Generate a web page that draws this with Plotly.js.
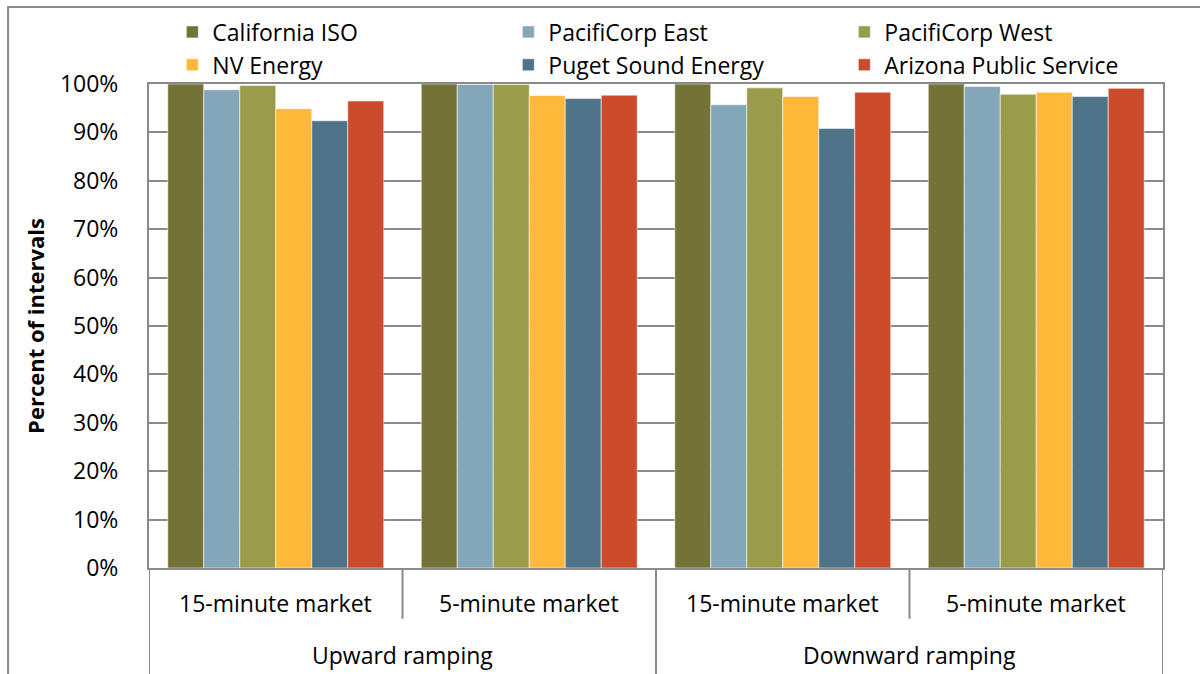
<!DOCTYPE html>
<html>
<head>
<meta charset="utf-8">
<script src="https://cdn.plot.ly/plotly-3.0.1.min.js"></script>
<style>html,body{margin:0;padding:0;background:#fff;}#chart{width:1200px;height:674px;}</style>
</head>
<body>
<div id="chart"></div>
<script>
// ---- data ----
const categories = ["15-minute market", "5-minute market", "15-minute market", "5-minute market"];
const groups = ["Upward ramping", "Downward ramping"];
const seriesNames = ["California ISO", "PacifiCorp East", "PacifiCorp West", "NV Energy", "Puget Sound Energy", "Arizona Public Service"];
const caiso = [100, 100, 100, 100];
const pacificorpEast = [98.8, 99.9, 95.7, 99.5];
const pacificorpWest = [99.7, 99.9, 99.2, 97.9];
const nvEnergy = [94.9, 97.6, 97.4, 98.3];
const pugetSound = [92.4, 97.0, 90.8, 97.4];
const arizonaPS = [96.5, 97.7, 98.3, 99.1];
const yTicks = [0, 10, 20, 30, 40, 50, 60, 70, 80, 90, 100];

const colors = ["#737338", "#84A6B9", "#9B9B4C", "#FEB83A", "#4F7389", "#CB4B2C"];
const allSeries = [caiso, pacificorpEast, pacificorpWest, nvEnergy, pugetSound, arizonaPS];
const xIdx = categories.map((_, i) => i);
const FONT = "'Open Sans', sans-serif";
const GRID = "#8a8a8a";
const FS = 23;

const traces = allSeries.map((vals, k) => ({
  type: "bar",
  name: seriesNames[k],
  x: xIdx,
  y: vals,
  marker: {color: colors[k], line: {color: "rgba(255,255,255,0.55)", width: 1}},
  hoverinfo: "name+y"
}));

const annotations = [];
categories.forEach((c, i) => annotations.push({
  text: c, x: i, xref: "x", y: 0, yref: "paper", yanchor: "middle", yshift: -35,
  showarrow: false, font: {family: FONT, size: FS, color: "#000"}
}));
groups.forEach((g, j) => annotations.push({
  text: g, x: 2 * j + 0.5, xref: "x", y: 0, yref: "paper", yanchor: "middle", yshift: -87,
  showarrow: false, font: {family: FONT, size: FS, color: "#000"}
}));

const shapes = [];
// separators below axis: short between sub-categories, long between groups
for (let b = 0; b <= categories.length; b++) {
  const major = (b % 2 === 0);
  shapes.push({
    type: "line", xref: "x", yref: "paper", x0: b - 0.5, x1: b - 0.5,
    y0: 0, y1: major ? -0.22 : -0.105,
    line: {color: GRID, width: 2}
  });
}
// outer chart frame
shapes.push({
  type: "rect", xref: "paper", yref: "paper",
  x0: -0.139, x1: 1.2, y0: -0.4, y1: 1.159,
  line: {color: GRID, width: 2}, fillcolor: "rgba(0,0,0,0)", layer: "below"
});

const layout = {
  width: 1200, height: 674,
  margin: {l: 149, r: 37, t: 84, b: 106, autoexpand: false},
  paper_bgcolor: "#fff", plot_bgcolor: "#fff",
  font: {family: FONT, size: FS, color: "#000"},
  barmode: "group", bargap: 0.148, bargroupgap: 0,
  showlegend: true,
  legend: {
    orientation: "h", x: 0.023, xanchor: "left", y: 1.152, yanchor: "top",
    entrywidth: 291, entrywidthmode: "pixels",
    font: {family: FONT, size: FS, color: "#000"},
    itemwidth: 30, tracegroupgap: 0, bgcolor: "rgba(0,0,0,0)",
    traceorder: "normal"
  },
  xaxis: {
    range: [-0.5, categories.length - 0.5],
    showticklabels: false, showgrid: false, zeroline: false,
    showline: true, linecolor: GRID, linewidth: 2, mirror: true, ticks: "",
    fixedrange: true
  },
  yaxis: {
    range: [0, 100], tickvals: yTicks, ticktext: yTicks.map(v => v + "%"),
    showgrid: true, gridcolor: GRID, gridwidth: 2, zeroline: false,
    showline: true, linecolor: GRID, linewidth: 2, mirror: true,
    ticks: "", ticklabelstandoff: 24,
    tickfont: {family: FONT, size: FS, color: "#000"},
    title: {text: "Percent of intervals", standoff: 9, font: {family: FONT, size: 22, color: "#000", weight: "bold"}},
    fixedrange: true
  },
  annotations: annotations,
  shapes: shapes
};

Plotly.newPlot("chart", traces, layout, {displayModeBar: false, staticPlot: true});
</script>
</body>
</html>
